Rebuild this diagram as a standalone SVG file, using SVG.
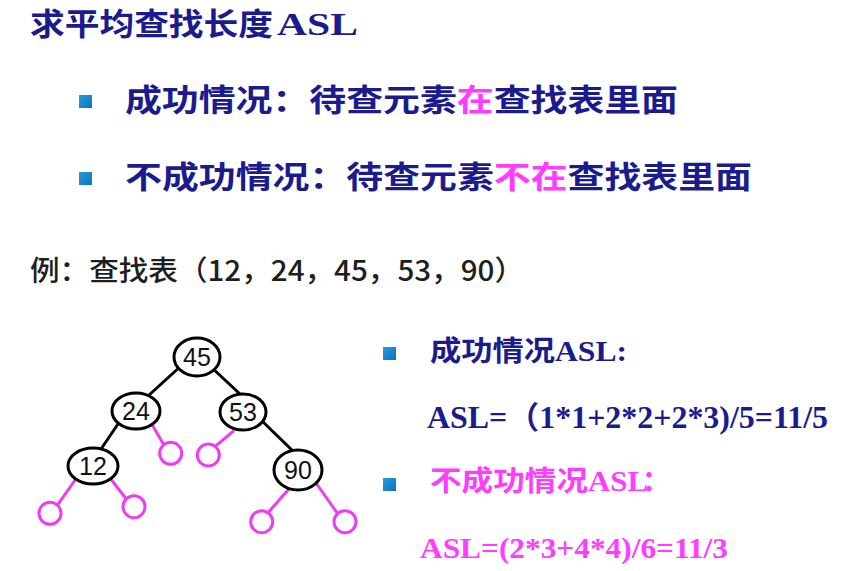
<svg xmlns="http://www.w3.org/2000/svg" width="841" height="571" viewBox="0 0 841 571">
  <defs>
    <linearGradient id="bulletFill" x1="0" y1="0" x2="1" y2="1">
      <stop offset="0" stop-color="#2a9ae0"/>
      <stop offset="1" stop-color="#0b74b8"/>
    </linearGradient>
  </defs>
  <style>
    .cjk { font-family: "Noto Sans CJK SC", "Noto Sans", sans-serif; font-weight: 700; }
    .serif { font-family: "Liberation Serif", "Noto Sans CJK SC", serif; font-weight: 700; }
    .navy { fill: #1b1b8e; }
    .pink { fill: #ff3cff; }
    .plain { font-family: "Noto Sans CJK SC", sans-serif; font-weight: 500; fill: #1e1e1e; }
    .bullet { fill: url(#bulletFill); }
    .node ellipse { fill: #ffffff; stroke: #000000; stroke-width: 3; }
    .node text { font-family: "Liberation Sans", Arial, sans-serif; font-size: 25px; fill: #111111; text-anchor: middle; }
    .leaf circle { fill: #ffffff; stroke: #f03cf0; stroke-width: 3; }
    .edge { stroke: #000000; stroke-width: 3; stroke-linecap: round; }
    .null-edge { stroke: #f03cf0; stroke-width: 3; stroke-linecap: round; }
  </style>

  <rect width="841" height="571" fill="#ffffff"/>

  <!-- heading -->
  <g id="title">
    <text class="cjk navy" x="30" y="35" font-size="31" textLength="243" lengthAdjust="spacingAndGlyphs">求平均查找长度</text>
    <text class="serif navy" x="277" y="35" font-size="32" textLength="81" lengthAdjust="spacingAndGlyphs">ASL</text>
  </g>

  <!-- the two cases -->
  <g id="case-success">
    <rect class="bullet" x="79" y="95" width="13" height="13"/>
    <text class="cjk navy" x="125" y="111" font-size="31" textLength="553" lengthAdjust="spacingAndGlyphs">成功情况：待查元素<tspan class="pink">在</tspan>查找表里面</text>
  </g>
  <g id="case-failure">
    <rect class="bullet" x="79" y="172" width="13" height="13"/>
    <text class="cjk navy" x="125" y="188" font-size="31" textLength="627" lengthAdjust="spacingAndGlyphs">不成功情况：待查元素<tspan class="pink">不在</tspan>查找表里面</text>
  </g>

  <!-- example table -->
  <g id="example">
    <text class="plain" x="30" y="281" font-size="28" textLength="494" lengthAdjust="spacingAndGlyphs">例：查找表（12，24，45，53，90）</text>
  </g>

  <!-- tree connectors -->
  <g id="connectors">
    <line class="edge" x1="182" y1="365" x2="148" y2="396"/>
    <line class="edge" x1="210" y1="366" x2="241" y2="395"/>
    <line class="edge" x1="120" y1="421" x2="99" y2="452"/>
    <line class="edge" x1="260" y1="419" x2="295" y2="453"/>
    <line class="null-edge" x1="153" y1="426" x2="163.7" y2="444.8"/>
    <line class="null-edge" x1="233" y1="431.5" x2="215.2" y2="446.4"/>
    <line class="null-edge" x1="76.5" y1="478" x2="57.4" y2="505.2"/>
    <line class="null-edge" x1="110" y1="478" x2="126.2" y2="499"/>
    <line class="null-edge" x1="288" y1="490" x2="268" y2="512.7"/>
    <line class="null-edge" x1="315" y1="481.5" x2="337.6" y2="513.6"/>
  </g>

  <!-- tree nodes -->
  <g id="node-45" class="node"><ellipse cx="197" cy="357" rx="23" ry="19"/><text x="197" y="366">45</text></g>
  <g id="node-24" class="node"><ellipse cx="136" cy="411" rx="24" ry="18"/><text x="136" y="420">24</text></g>
  <g id="node-53" class="node"><ellipse cx="243" cy="412" rx="23" ry="18"/><text x="243" y="421">53</text></g>
  <g id="node-12" class="node"><ellipse cx="93" cy="466" rx="25" ry="18"/><text x="93" y="475">12</text></g>
  <g id="node-90" class="node"><ellipse cx="298" cy="470" rx="24" ry="20"/><text x="298" y="479">90</text></g>

  <!-- failure leaves -->
  <g id="leaf-24r" class="leaf"><circle cx="170.7" cy="453.3" r="11"/></g>
  <g id="leaf-53l" class="leaf"><circle cx="208.3" cy="455" r="11"/></g>
  <g id="leaf-12l" class="leaf"><circle cx="50" cy="513.3" r="11"/></g>
  <g id="leaf-12r" class="leaf"><circle cx="134" cy="506.7" r="11"/></g>
  <g id="leaf-90l" class="leaf"><circle cx="261.7" cy="521.7" r="11"/></g>
  <g id="leaf-90r" class="leaf"><circle cx="345" cy="521.7" r="11"/></g>

  <!-- ASL results -->
  <g id="asl-success">
    <rect class="bullet" x="383" y="347" width="13" height="13"/>
    <text class="cjk navy" x="430" y="361" font-size="28" textLength="125" lengthAdjust="spacingAndGlyphs">成功情况</text>
    <text class="serif navy" x="555" y="361" font-size="29" textLength="72" lengthAdjust="spacingAndGlyphs">ASL:</text>
    <text class="serif navy" x="427" y="428" font-size="31" textLength="401" lengthAdjust="spacingAndGlyphs">ASL=<tspan font-family="Noto Sans CJK SC, sans-serif">（</tspan>1*1+2*2+2*3)/5=11/5</text>
  </g>
  <g id="asl-failure">
    <rect class="bullet" x="383" y="478" width="13" height="13"/>
    <text class="cjk pink" x="430" y="491" font-size="28" textLength="158" lengthAdjust="spacingAndGlyphs">不成功情况</text>
    <text class="serif pink" x="588" y="491" font-size="29" textLength="60" lengthAdjust="spacingAndGlyphs">ASL</text>
    <text class="cjk pink" x="642" y="491" font-size="28">：</text>
    <text class="serif pink" x="420" y="558" font-size="30" textLength="308" lengthAdjust="spacingAndGlyphs">ASL=(2*3+4*4)/6=11/3</text>
  </g>
</svg>
